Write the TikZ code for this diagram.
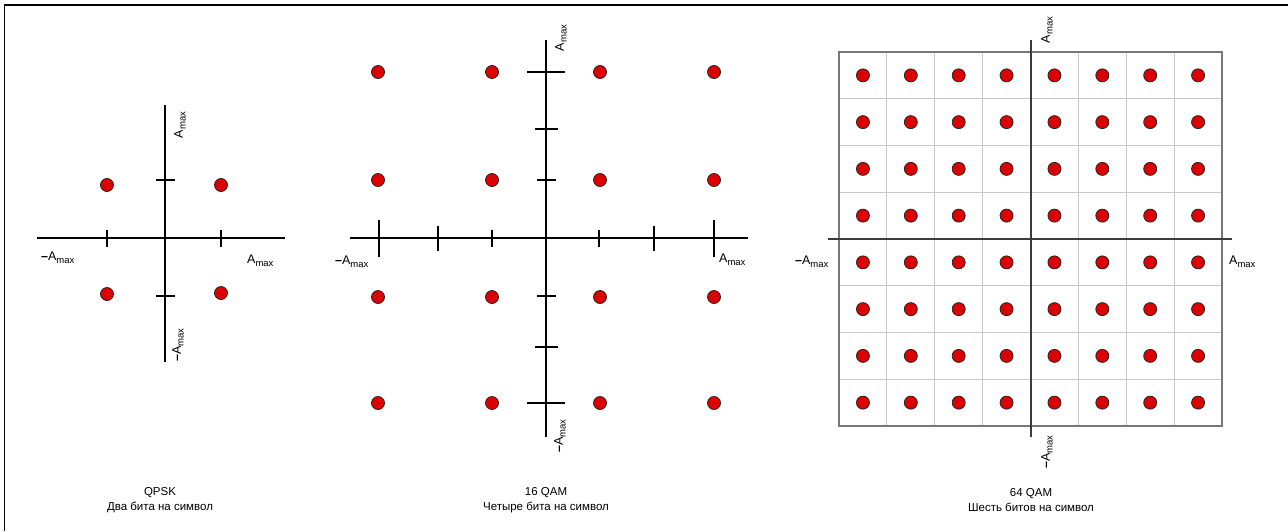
\documentclass[tikz,border=0pt]{standalone}
\usepackage{fontspec}
\setmainfont{Liberation Sans}
\definecolor{dotred}{RGB}{221,0,0}
\definecolor{gridlight}{RGB}{200,200,200}
\definecolor{framegray}{RGB}{120,120,120}
\definecolor{axisgray}{RGB}{60,60,60}
\newcommand\Amx{A\raisebox{-0.4ex}{\fontsize{9.5}{10}\selectfont max}}
\newcommand\mAmx{\textbf{–}\Amx}
\begin{document}
\begin{tikzpicture}[x=1pt,y=-1pt,
  axis/.style={line width=1.1pt,black},
  tick/.style={line width=1.1pt,black},
  dot/.style={circle,fill=dotred,draw=black!85,line width=0.8pt,minimum size=13pt,inner sep=0pt},
  lbl/.style={font=\fontsize{12.5}{13}\selectfont,inner sep=0pt},
  captxt/.style={font=\fontsize{11.5}{15}\selectfont,align=center,inner sep=0pt}]
\useasboundingbox (0,0) rectangle (1288,531);
% frame
\coordinate (fb) at (4.5,531); \coordinate (ftl) at (4.5,5); \coordinate (fr) at (1288,5);
\draw[line width=1.5pt] (fb) -- (ftl) -- (fr);

% ---------------- QPSK ----------------
\coordinate (qL) at (37,238); \coordinate (qR) at (285,238);
\coordinate (qT) at (165,105); \coordinate (qB) at (165,362);
\draw[axis] (qL) -- (qR);
\draw[axis] (qT) -- (qB);
\foreach \x in {107,221} \draw[tick] (\x,230) -- (\x,247);
\foreach \y in {180,296} \draw[tick] (156,\y) -- (175,\y);
\node[dot] (q1) at (107,185) {};
\node[dot] (q2) at (221,185) {};
\node[dot] (q3) at (107,294) {};
\node[dot] (q4) at (221,293) {};
\node[lbl,rotate=90] (qlt) at (180,125) {\Amx};
\node[lbl,rotate=90] (qlb) at (178,345) {\mAmx};
\node[lbl,anchor=west] (qll) at (41,258) {\mAmx};
\node[lbl,anchor=west] (qlr) at (247,261) {\Amx};
\node[captxt] (qcap) at (160,500) {QPSK\\Два бита на символ};

% ---------------- 16 QAM ----------------
\coordinate (sL) at (350,238); \coordinate (sR) at (748,238);
\coordinate (sT) at (546,40); \coordinate (sB) at (546,437);
\draw[axis] (sL) -- (sR);
\draw[axis] (sT) -- (sB);
% x ticks
\draw[tick] (379,220) -- (379,257);
\draw[tick] (438,226) -- (438,251);
\draw[tick] (492,230) -- (492,247);
\draw[tick] (599,230) -- (599,247);
\draw[tick] (654,226) -- (654,251);
\draw[tick] (714,220) -- (714,257);
% y ticks
\draw[tick] (527,72) -- (565,72);
\draw[tick] (535,129) -- (558,129);
\draw[tick] (537,180) -- (556,180);
\draw[tick] (537,296) -- (556,296);
\draw[tick] (535,347) -- (558,347);
\draw[tick] (527,403) -- (565,403);
\foreach \x [count=\i] in {378,492,600,714}
  \foreach \y [count=\j] in {72,180,297,403}
    \node[dot] (s-\i-\j) at (\x,\y) {};
\node[lbl,rotate=90] (slt) at (561,38) {\Amx};
\node[lbl,rotate=90] (slb) at (560,436) {\mAmx};
\node[lbl,anchor=west] (sll) at (335,262) {\mAmx};
\node[lbl,anchor=west] (slr) at (719,260) {\Amx};
\node[captxt] (scap) at (546,500) {16 QAM\\Четыре бита на символ};

% ---------------- 64 QAM ----------------
\foreach \k in {1,...,7} {
  \draw[gridlight,line width=1pt] (839+\k*47.875,52) -- (839+\k*47.875,426);
  \draw[gridlight,line width=1pt] (839,52+\k*46.75) -- (1222,52+\k*46.75);
}
\draw[framegray,line width=1.6pt] (839,52) rectangle (1222,426);
\coordinate (gL) at (828,239); \coordinate (gR) at (1232,239);
\coordinate (gT) at (1031,40); \coordinate (gB) at (1031,437);
\draw[axisgray,line width=1.3pt] (gL) -- (gR);
\draw[axisgray,line width=1.3pt] (gT) -- (gB);
\foreach \i in {0,...,7}
  \foreach \j in {0,...,7}
    \node[dot] (g-\i-\j) at (862.94+\i*47.875,75.375+\j*46.75) {};
\node[lbl,rotate=90] (glt) at (1047,30) {\Amx};
\node[lbl,rotate=90] (glb) at (1047,452) {\mAmx};
\node[lbl,anchor=west] (gll) at (795,262) {\mAmx};
\node[lbl,anchor=west] (glr) at (1229,262) {\Amx};
\node[captxt] (gcap) at (1031,500) {64 QAM\\Шесть битов на символ};
\end{tikzpicture}
\end{document}
